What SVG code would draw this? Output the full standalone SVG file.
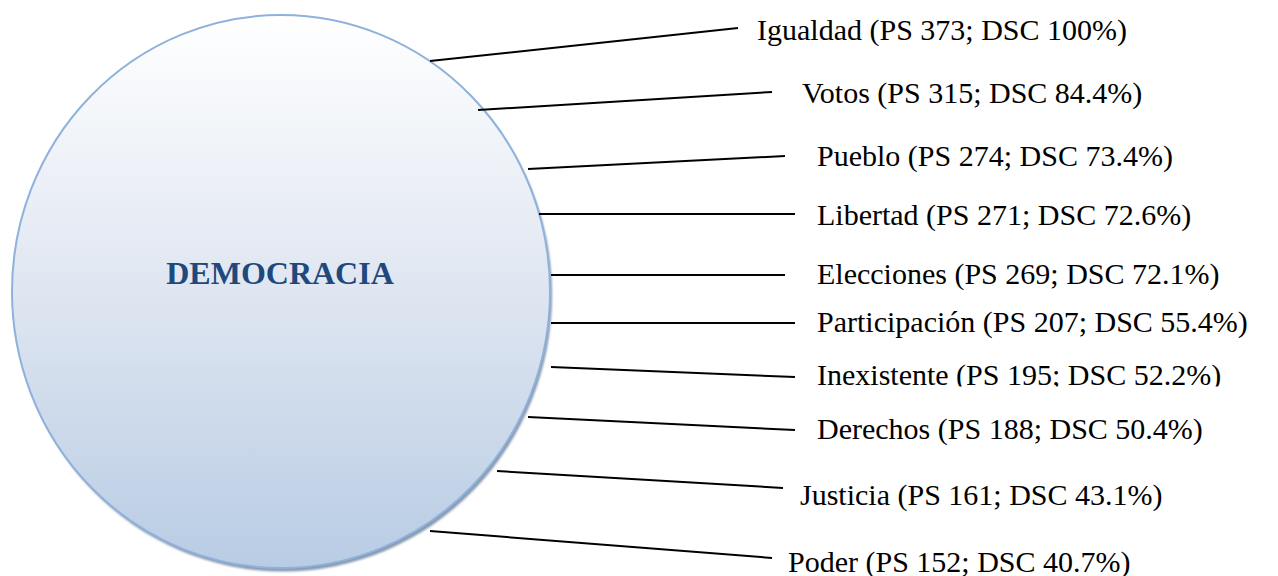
<svg xmlns="http://www.w3.org/2000/svg" width="1278" height="576" viewBox="0 0 1278 576">
<style>
text.lbl{font-family:'Liberation Serif','Times New Roman',Times,serif;font-size:30px;font-weight:400;fill:#000}
text.title{font-family:'Liberation Serif','Times New Roman',Times,serif;font-size:32px;font-weight:700;fill:#1f497d}
.conn line{stroke:#000;stroke-width:2}
</style>
<defs>
<linearGradient id="g" x1="0" y1="0" x2="0" y2="1">
<stop offset="0" stop-color="#ffffff"/>
<stop offset="0.5" stop-color="#dfe6f1"/>
<stop offset="1" stop-color="#b8cce4"/>
</linearGradient>
<filter id="sh" x="-10%" y="-10%" width="120%" height="120%">
<feGaussianBlur stdDeviation="1"/>
</filter>
<clipPath id="clipIn"><rect x="800" y="350" width="478" height="36.5"/></clipPath>
</defs>
<g id="democracia">
<ellipse cx="283" cy="295" rx="269" ry="276.5" fill="#8799b0" filter="url(#sh)"/>
<ellipse cx="281" cy="291.5" rx="269" ry="276.5" fill="url(#g)" stroke="#8fb1dc" stroke-width="2"/>
<text class="title" x="280" y="284" text-anchor="middle">DEMOCRACIA</text>
</g>
<g id="connectors" class="conn">
<line x1="430" y1="61" x2="738" y2="28"/>
<line x1="478" y1="110" x2="772" y2="92"/>
<line x1="528" y1="169" x2="785" y2="156"/>
<line x1="539" y1="214" x2="795" y2="214"/>
<line x1="551" y1="275" x2="785" y2="275"/>
<line x1="551" y1="323" x2="795" y2="323"/>
<line x1="551" y1="367" x2="795" y2="377"/>
<line x1="528" y1="417" x2="795" y2="430"/>
<line x1="497" y1="471" x2="783" y2="488"/>
<line x1="430" y1="531" x2="772" y2="558"/>
</g>
<g id="n-igualdad"><text class="lbl" x="757" y="40">Igualdad (PS 373; DSC 100%)</text></g>
<g id="n-votos"><text class="lbl" x="802" y="103">Votos (PS 315; DSC 84.4%)</text></g>
<g id="n-pueblo"><text class="lbl" x="817" y="166">Pueblo (PS 274; DSC 73.4%)</text></g>
<g id="n-libertad"><text class="lbl" x="817" y="225">Libertad (PS 271; DSC 72.6%)</text></g>
<g id="n-elecciones"><text class="lbl" x="817" y="284">Elecciones (PS 269; DSC 72.1%)</text></g>
<g id="n-participacion"><text class="lbl" x="817" y="332">Participación (PS 207; DSC 55.4%)</text></g>
<g id="n-inexistente" clip-path="url(#clipIn)"><text class="lbl" x="817" y="385">Inexistente (PS 195; DSC 52.2%)</text></g>
<g id="n-derechos"><text class="lbl" x="817" y="439">Derechos (PS 188; DSC 50.4%)</text></g>
<g id="n-justicia"><text class="lbl" x="800" y="505">Justicia (PS 161; DSC 43.1%)</text></g>
<g id="n-poder"><text class="lbl" x="788" y="572">Poder (PS 152; DSC 40.7%)</text></g>
</svg>
